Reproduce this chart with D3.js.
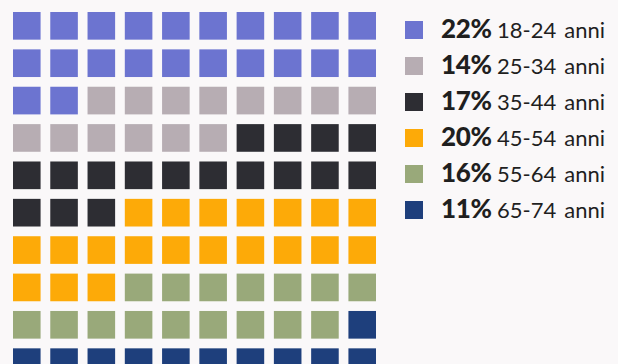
<!DOCTYPE html>
<meta charset="utf-8">
<head>
<style>
  body { margin: 0; background: #faf8f9; }
  svg { display: block; }
</style>
<script src="https://cdn.jsdelivr.net/npm/d3@7"></script>
</head>
<body>
<svg id="chart"></svg>
<script>
// values
let ageGroups = ["18-24", "25-34", "35-44", "45-54", "55-64", "65-74"]
let shares = [22, 14, 17, 20, 16, 11]
let groupColors = ["#6c74d0", "#b7adb3", "#2d2d33", "#fdaa08", "#99a97a", "#1e3f7c"]

let width = 618, height = 364

let svg = d3.select("#chart")
    .attr("width", width)
    .attr("height", height)

// one cell per percent point, filled row by row
let cells = []
shares.forEach((s, i) => {
    for (let k = 0; k < s; k++) cells.push({ group: i })
})
cells.forEach((c, i) => { c.row = Math.floor(i / 10); c.col = i % 10 })

let xScale = d3.scaleBand()
    .domain(d3.range(10))
    .range([13, 13 + 36.3 * 10])
    .paddingInner(0.26)
    .paddingOuter(0)

let yScale = d3.scaleBand()
    .domain(d3.range(10))
    .range([12, 12 + 36.4 * 10])
    .paddingInner(0.26)
    .paddingOuter(0)

let color = d3.scaleOrdinal()
    .domain(d3.range(ageGroups.length))
    .range(groupColors)

svg.append("g")
    .selectAll("rect")
    .data(cells)
    .enter()
    .append("rect")
    .attr("x", d => xScale(d.col))
    .attr("y", d => yScale(d.row))
    .attr("width", xScale.bandwidth())
    .attr("height", yScale.bandwidth())
    .attr("fill", d => color(d.group))

// legend
let legY = d3.scalePoint()
    .domain(d3.range(ageGroups.length))
    .range([37.5, 217.5])

let leg = svg.append("g")
    .selectAll("g")
    .data(ageGroups)
    .enter()
    .append("g")
    .attr("transform", (d, i) => `translate(0,${legY(i)})`)

leg.append("rect")
    .attr("x", 405)
    .attr("y", -16.5)
    .attr("width", 18)
    .attr("height", 18)
    .attr("fill", (d, i) => color(i))

leg.append("text")
    .attr("x", 441)
    .attr("font-family", "Lato, sans-serif")
    .attr("font-weight", 900)
    .attr("font-size", 26)
    .attr("letter-spacing", -0.3)
    .attr("fill", "#1f1f1f")
    .text((d, i) => shares[i] + "%")

let age = leg.append("text")
    .attr("x", 497)
    .attr("font-family", "Lato, sans-serif")
    .attr("font-size", 22)
    .attr("fill", "#1f1f1f")
    .text(d => d)

// "anni" follows the age label
leg.append("text")
    .attr("x", function(d, i) { return 497 + age.nodes()[i].getComputedTextLength() + 8 })
    .attr("font-family", "Lato, sans-serif")
    .attr("font-size", 22)
    .attr("fill", "#1f1f1f")
    .text("anni")
</script>
</body>
